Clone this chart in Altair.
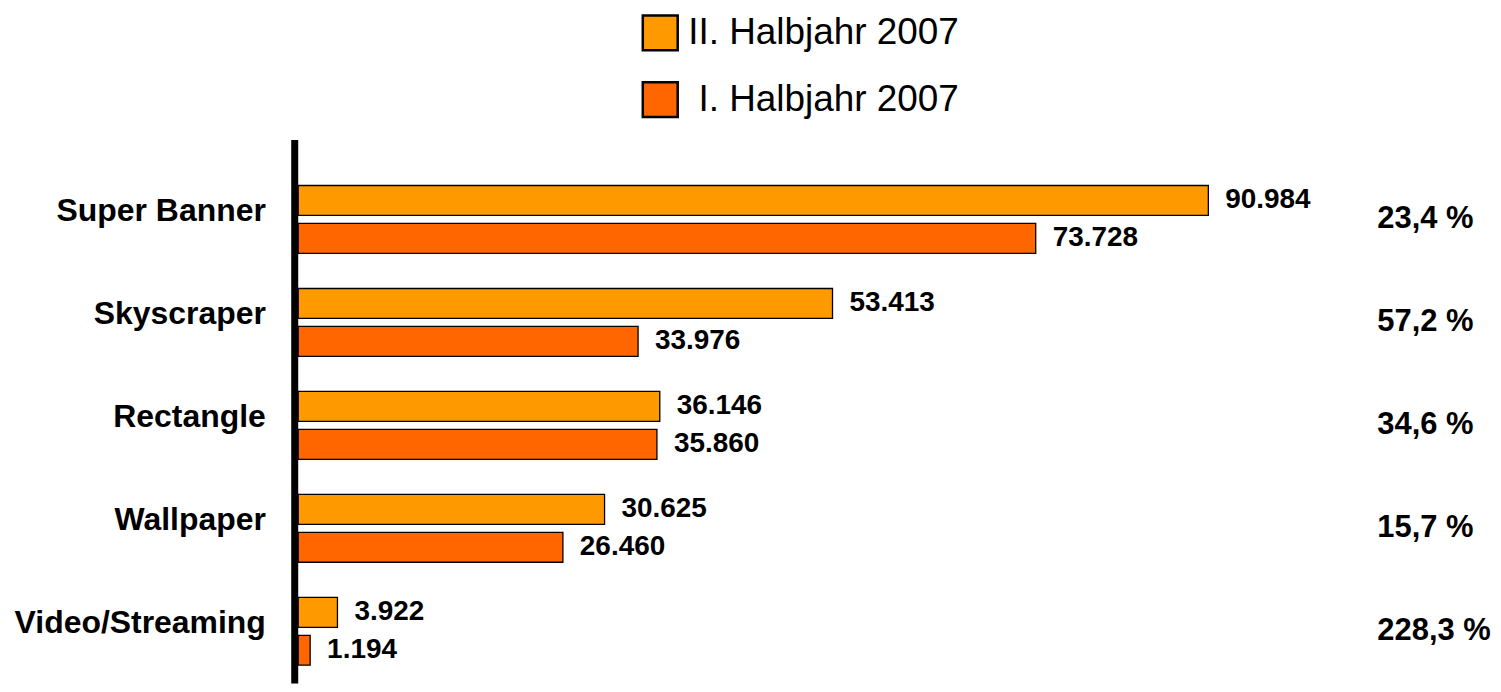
import altair as alt
import pandas as pd

categories = ["Super Banner", "Skyscraper", "Rectangle", "Wallpaper", "Video/Streaming"]
series_names = ["II. Halbjahr 2007", "I. Halbjahr 2007"]
h2_2007 = [90984, 53413, 36146, 30625, 3922]
h1_2007 = [73728, 33976, 35860, 26460, 1194]
growth = ["23,4 %", "57,2 %", "34,6 %", "15,7 %", "228,3 %"]
colors = ["#FF9900", "#FF6600"]

rows = []
for c, a, b in zip(categories, h2_2007, h1_2007):
    rows.append({"Format": c, "Halbjahr": series_names[0], "Wert": a,
                 "Label": f"{a:,}".replace(",", ".")})
    rows.append({"Format": c, "Halbjahr": series_names[1], "Wert": b,
                 "Label": f"{b:,}".replace(",", ".")})
df = pd.DataFrame(rows)
df_pct = pd.DataFrame({"Format": categories, "Pct": growth})

FONT = "Liberation Sans"

y_enc = alt.Y(
    "Format:N", sort=categories,
    scale=alt.Scale(paddingInner=0.3414, paddingOuter=0.31, align=0.72),
    axis=alt.Axis(title=None, domain=True, domainColor="black", domainWidth=7,
                  ticks=False, tickSize=0, grid=False, offset=4, labelPadding=29,
                  labelFont=FONT, labelFontSize=32, labelFontWeight="bold",
                  labelColor="black", labelBaseline="middle", labelOffset=-8,
                  labelLimit=400),
)
yoff = alt.YOffset("Halbjahr:N", sort=series_names,
                   scale=alt.Scale(domain=series_names, paddingInner=0.21, paddingOuter=0))
x_enc = alt.X("Wert:Q", scale=alt.Scale(domain=[0, 100000], nice=False), axis=None)

bars = alt.Chart(df).mark_bar(stroke="black", strokeWidth=1.3).encode(
    y=y_enc, yOffset=yoff, x=x_enc,
    color=alt.Color(
        "Halbjahr:N",
        scale=alt.Scale(domain=series_names, range=colors),
        legend=alt.Legend(
            title=None, orient="none", legendX=344, legendY=-126, padding=0,
            symbolType="square", symbolSize=1225, symbolStrokeColor="black",
            symbolStrokeWidth=2.5, symbolOpacity=1,
            labelFont=FONT, labelFontSize=37, labelColor="black", labelOffset=9,
            rowPadding=21, labelLimit=600,
            labelExpr="datum.value == 'I. Halbjahr 2007' ? '\\u200b I. Halbjahr 2007' : datum.label",
        ),
    ),
)

values = alt.Chart(df).mark_text(
    align="left", baseline="middle", dx=17, font=FONT, fontSize=28,
    fontWeight="bold", color="black",
).encode(y=y_enc, yOffset=yoff, x=x_enc, text="Label:N")

pcts = alt.Chart(df_pct).mark_text(
    align="left", baseline="middle", font=FONT, fontSize=31,
    fontWeight="bold", color="black",
).encode(y=y_enc, x=alt.value(1082), text="Pct:N")

chart = alt.layer(bars, values, pcts).properties(
    width=1003, height=545,
    autosize=alt.AutoSizeParams(type="none"),
    padding={"left": 291, "top": 131, "right": 195, "bottom": 0},
    background="white",
).configure_view(stroke=None)

chart.save("out.html", embed_options={"renderer": "svg", "actions": False})
